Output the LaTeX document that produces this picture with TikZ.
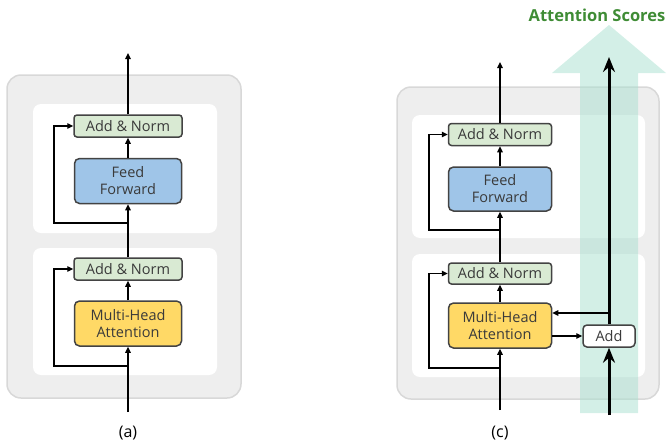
\documentclass[tikz,border=0pt]{standalone}
\usepackage{fontspec}
\setmainfont{Open Sans}
\usetikzlibrary{arrows.meta,calc}
\definecolor{grayfill}{HTML}{EEEEEE}
\definecolor{grayline}{HTML}{D8D8D8}
\definecolor{boxline}{HTML}{434343}
\definecolor{txt}{HTML}{3A3A3A}
\definecolor{angreen}{HTML}{D9EAD3}
\definecolor{ffblue}{HTML}{9FC5E8}
\definecolor{mhayellow}{HTML}{FFD966}
\definecolor{teal}{HTML}{A8E0CF}
\definecolor{scoregreen}{HTML}{3F8C35}
\begin{document}
\begin{tikzpicture}[x=1pt,y=-1pt,
  outerbox/.style={fill=grayfill,draw=grayline,line width=1.5pt,rounded corners=14pt},
  innerbox/.style={fill=white,rounded corners=8pt},
  blk/.style={draw=boxline,line width=1.5pt,rounded corners=5pt,text=txt,
     font=\fontsize{14.5}{17}\selectfont,align=center,inner sep=0pt},
  an/.style={blk,fill=angreen,rounded corners=3pt,minimum height=22pt},
  ff/.style={blk,fill=ffblue,minimum height=45pt},
  mha/.style={blk,fill=mhayellow,minimum height=45pt},
  addbox/.style={blk,fill=white,rounded corners=4pt,minimum width=52pt,minimum height=22pt},
  arr/.style={draw=black,line width=1.3pt,-{Triangle[length=6pt,width=5.5pt]}},
  thickarr/.style={draw=black,line width=3pt,-{Stealth[length=15pt,width=12pt,inset=5pt]}},
  lab/.style={font=\fontsize{16}{18}\selectfont,text=black}
]
\useasboundingbox (0,0) rectangle (667,445);

% ---------- (a) ----------
\draw[outerbox] (7,75) rectangle (241,398);
\fill[innerbox] (33,104) rectangle (217,233);
\fill[innerbox] (33,248) rectangle (217,375);

\node[an,minimum width=108pt] (anTa) at (128,126) {Add \& Norm};
\node[ff,minimum width=107pt] (ffa) at (128,181) {Feed\\Forward};
\node[an,minimum width=108pt] (anBa) at (128,269) {Add \& Norm};
\node[mha,minimum width=107pt] (mhaa) at (128,323.5) {Multi-Head\\Attention};

\coordinate (ina) at (128,412);
\coordinate (outa) at (128,53);
\coordinate (sTa) at (128,223);
\coordinate (kTa) at (54,223);
\coordinate (sBa) at (128,366);
\coordinate (kBa) at (54,366);

\draw[arr] (ina) -- (mhaa.south);
\draw[arr] (mhaa.north) -- (anBa.south);
\draw[arr] (anBa.north) -- (ffa.south);
\draw[arr] (ffa.north) -- (anTa.south);
\draw[arr] (anTa.north) -- (outa);
\draw[arr] (sTa) -- (kTa) |- (anTa.west);
\draw[arr] (sBa) -- (kBa) |- (anBa.west);

\node[lab] (laba) at (128,433) {(a)};

% ---------- (c) ----------
\draw[outerbox] (397,87) rectangle (659,399);
\fill[innerbox] (412,115) rectangle (645,238);
\fill[innerbox] (412,254) rectangle (645,377);

\fill[teal,opacity=0.5] (580,413) -- (580,73) -- (552,73) -- (609,25) -- (666,73) -- (638,73) -- (638,413) -- cycle;

\node[an,minimum width=103pt] (anTc) at (500,134.5) {Add \& Norm};
\node[ff,minimum width=103pt,minimum height=44pt] (ffc) at (500,189) {Feed\\Forward};
\node[an,minimum width=103pt,minimum height=21pt] (anBc) at (500,273.5) {Add \& Norm};
\node[mha,minimum width=103pt] (mhac) at (500,325.5) {Multi-Head\\Attention};
\node[addbox] (addc) at (609,336) {Add};

\coordinate (inc) at (500,410);
\coordinate (outc) at (500,62);
\coordinate (sTc) at (500,230);
\coordinate (kTc) at (429,230);
\coordinate (sBc) at (500,368);
\coordinate (kBc) at (429,368);

\draw[arr] (inc) -- (mhac.south);
\draw[arr] (mhac.north) -- (anBc.south);
\draw[arr] (anBc.north) -- (ffc.south);
\draw[arr] (ffc.north) -- (anTc.south);
\draw[arr] (anTc.north) -- (outc);
\draw[arr] (sTc) -- (kTc) |- (anTc.west);
\draw[arr] (sBc) -- (kBc) |- (anBc.west);

\coordinate (thin) at (609,415);
\coordinate (thout) at (609,57);
\coordinate (br) at (609,313);
\draw[thickarr] (thin) -- (addc.south);
\draw[thickarr] (addc.north) -- (thout);
\draw[arr] (br) -- (br -| mhac.east);
\draw[arr] (mhac.east |- addc.west) -- (addc.west);

\node[font=\bfseries\fontsize{16.5}{19}\selectfont,text=scoregreen] (score) at (597,15) {Attention Scores};
\node[lab] (labc) at (500,433) {(c)};
\end{tikzpicture}
\end{document}
